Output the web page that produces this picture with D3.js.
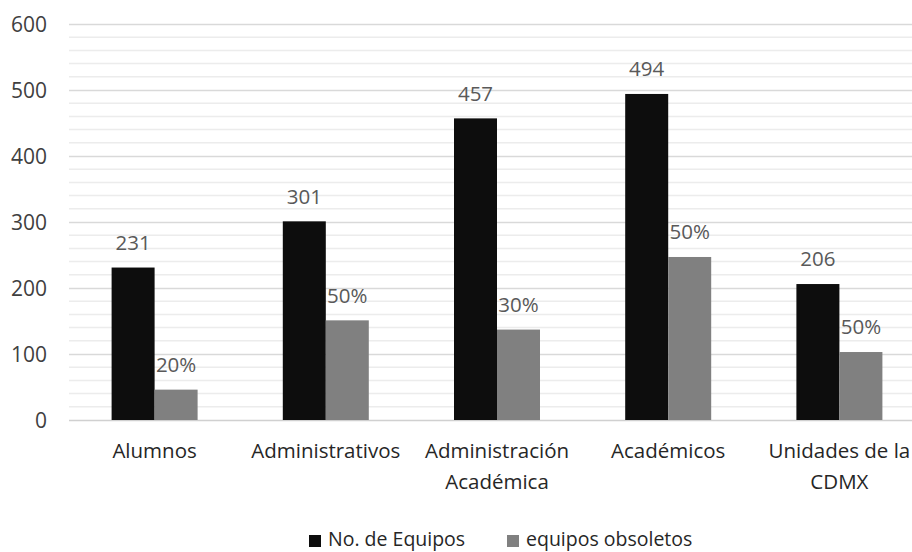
<!DOCTYPE html>
<html>
<head>
<meta charset="utf-8">
<script src="https://cdn.jsdelivr.net/npm/d3@7/dist/d3.min.js"></script>
<style>
  html, body { margin: 0; padding: 0; background: #ffffff; }
  svg { display: block; font-family: "Open Sans", "Noto Sans", sans-serif; }
</style>
</head>
<body>
<svg id="chart" width="912" height="552"></svg>
<script>
// Equipment inventory by area
const categories = ["Alumnos", "Administrativos", "Administración Académica", "Académicos", "Unidades de la CDMX"];
const seriesNames = ["No. de Equipos", "equipos obsoletos"];
const totalEquipos = [231, 301, 457, 494, 206];
const obsoletos = [46, 151, 137, 247, 103];
const obsoletosPct = ["20%", "50%", "30%", "50%", "50%"];
const yTicks = [0, 100, 200, 300, 400, 500, 600];

const colors = ["#0d0d0d", "#808080"];

const svg = d3.select("#chart");
const W = 912, H = 552;
const plot = { left: 69, right: 925, top: 24, bottom: 420 };

const x = d3.scaleBand().domain(categories).range([plot.left, plot.right]).paddingInner(0).paddingOuter(0);
const y = d3.scaleLinear().domain([0, 600]).range([plot.bottom, plot.top]);
const barW = 43;
const xs = d3.scaleBand().domain(seriesNames).range([0, barW * 2]);

// minor gridlines every 20
const minor = d3.range(20, 600, 20).filter(v => v % 100 !== 0);
svg.append("g").selectAll("line").data(minor).join("line")
  .attr("x1", plot.left).attr("x2", W)
  .attr("y1", d => y(d)).attr("y2", d => y(d))
  .attr("stroke", "#ececec").attr("stroke-width", 1.5);

// major gridlines and y-axis labels
const yAxis = d3.axisLeft(y).tickValues(yTicks).tickSize(0).tickPadding(0);
const gy = svg.append("g").attr("transform", `translate(${plot.left},0)`).call(yAxis);
gy.select(".domain").remove();
gy.selectAll(".tick line").clone()
  .attr("x1", 0).attr("x2", W - plot.left)
  .attr("stroke", d => d === 0 ? "#d0d0d0" : "#d9d9d9").attr("stroke-width", 1.5);
gy.selectAll(".tick text")
  .attr("x", -22).attr("dy", "0.35em")
  .attr("font-size", 21).attr("fill", "#404040")
  .style("font-family", "'Open Sans', sans-serif");

// bars
const rows = categories.map((c, i) => ({ cat: c, vals: [totalEquipos[i], obsoletos[i]], labels: [String(totalEquipos[i]), obsoletosPct[i]] }));
const groups = svg.append("g").selectAll("g").data(rows).join("g")
  .attr("transform", d => `translate(${x(d.cat) + x.bandwidth() / 2 - barW},0)`);

groups.selectAll("rect").data(d => d.vals.map((v, k) => ({ v, k }))).join("rect")
  .attr("x", d => xs(seriesNames[d.k]))
  .attr("width", xs.bandwidth())
  .attr("y", d => y(d.v))
  .attr("height", d => y(0) - y(d.v))
  .attr("fill", d => colors[d.k]);

groups.selectAll("text").data(d => d.vals.map((v, k) => ({ v, k, label: d.labels[k] }))).join("text")
  .attr("x", d => xs(seriesNames[d.k]) + xs.bandwidth() / 2)
  .attr("y", d => y(d.v) - 25)
  .attr("dy", "0.35em")
  .attr("text-anchor", "middle")
  .attr("font-size", 20.5)
  .attr("fill", "#595959")
  .text(d => d.label);

// category labels with wrapping
const xAxisG = svg.append("g");
categories.forEach(c => {
  const t = xAxisG.append("text")
    .attr("text-anchor", "middle")
    .attr("font-size", 20.5)
    .attr("fill", "#262626");
  const cx = x(c) + x.bandwidth() / 2;
  const words = c.split(" ");
  let lines = [], line = [];
  const probe = t.append("tspan");
  words.forEach(w => {
    const trial = line.concat(w).join(" ");
    probe.text(trial);
    if (probe.node().getComputedTextLength() > x.bandwidth() - 4 && line.length) {
      lines.push(line.join(" "));
      line = [w];
    } else {
      line.push(w);
    }
  });
  lines.push(line.join(" "));
  probe.remove();
  lines.forEach((l, i) => {
    t.append("tspan").attr("x", cx).attr("y", 451 + i * 31).attr("dy", "0.35em").text(l);
  });
});

// legend
const legend = svg.append("g");
const legendItems = [
  { name: seriesNames[0], color: colors[0], sx: 309 },
  { name: seriesNames[1], color: colors[1], sx: 507 }
];
legendItems.forEach(it => {
  legend.append("rect").attr("x", it.sx).attr("y", 535).attr("width", 12).attr("height", 12).attr("fill", it.color);
  legend.append("text").attr("x", it.sx + 19).attr("y", 546)
    .attr("font-size", 19.5).attr("fill", "#262626").text(it.name);
});
</script>
</body>
</html>
